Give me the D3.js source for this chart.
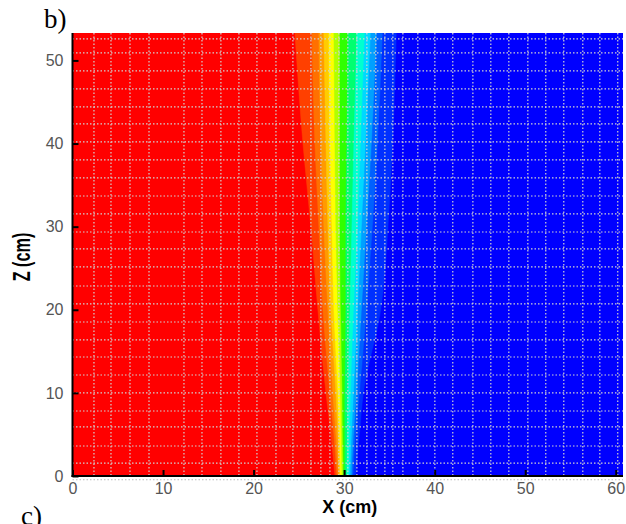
<!DOCTYPE html>
<html lang="en">
<head>
  <meta charset="UTF-8">
  <title>b) contour</title>
  <style>
    body { margin: 0; background: #fff; }
    svg { display: block; }
  </style>
</head>
<body>
<svg id="chart" width="626" height="524"></svg>
<script src="https://d3js.org/d3.v7.min.js"></script>
<script>
  const zRows = [0, 5, 10, 20, 30, 40, 53.3];

  // x position (cm) of each contour boundary, left to right, one value per zRows entry
  const bounds = [
    [28.98, 28.54, 27.99, 27.10, 26.33, 25.45, 24.56],
    [29.20, 28.87, 28.43, 27.66, 27.21, 26.77, 26.44],
    [29.37, 29.09, 28.76, 28.21, 27.76, 27.43, 27.21],
    [29.48, 29.31, 29.09, 28.54, 28.21, 27.99, 27.76],
    [29.59, 29.48, 29.31, 28.87, 28.65, 28.43, 28.32],
    [29.75, 29.70, 29.59, 29.31, 29.09, 28.98, 28.87],
    [29.92, 29.86, 29.81, 29.64, 29.53, 29.53, 29.53],
    [30.08, 30.08, 30.08, 30.19, 30.19, 30.30, 30.42],
    [30.30, 30.36, 30.42, 30.64, 30.86, 31.08, 31.41],
    [30.53, 30.64, 30.75, 31.08, 31.52, 31.85, 32.29],
    [30.69, 30.86, 31.08, 31.52, 31.96, 32.40, 32.95],
    [30.86, 31.08, 31.41, 31.96, 32.51, 33.06, 33.62],
    [31.02, 31.30, 31.74, 32.51, 33.17, 33.73, 34.28],
    [31.30, 31.74, 32.18, 34.10, 34.90, 35.40, 35.82]
  ];

  // flood colours, left region first
  const levelColors = ["#ff0000", "#ff4000", "#ff7000", "#ff9a00", "#ffcc00", "#ffff00",
    "#b0ff00", "#30ff00", "#00ff70", "#00ffd0", "#00d8ff", "#00a0ff", "#0060ff", "#0030ff", "#0000ff"];

  // mesh lines (cm)
  const gridX = [2.37, 4.25, 6.35, 8.45, 12.31, 14.30, 16.39, 18.38, 20.37, 22.47, 24.34, 26.33,
    27.43, 28.43, 29.42, 30.41, 31.41, 32.51, 33.50, 34.50, 35.38, 36.49, 38.14, 40.02, 42.00,
    44.22, 46.20, 48.19, 50.29, 52.27, 54.26, 56.36, 58.24, 60.22];
  const gridZ = [1.56, 3.61, 5.90, 7.82, 9.99, 12.15, 14.32, 16.37, 18.53, 20.70, 22.86, 25.15,
    27.32, 29.36, 31.53, 33.69, 35.86, 38.03, 40.19, 42.36, 44.40, 46.57, 48.74, 50.90, 52.59];

  const xTicks = [0, 10, 20, 30, 40, 50, 60];
  const zTicks = [0, 10, 20, 30, 40, 50];

  const xMax = 60.8, zMax = 53.3;

  const svg = d3.select("#chart");
  const x = d3.scaleLinear().domain([0, xMax]).range([72.5, 623]);
  const y = d3.scaleLinear().domain([0, zMax]).range([476, 33]);

  svg.append("clipPath").attr("id", "plot")
    .append("rect")
    .attr("x", x(0)).attr("y", y(zMax))
    .attr("width", x(xMax) - x(0)).attr("height", y(0) - y(zMax));

  const field = svg.append("g").attr("clip-path", "url(#plot)");

  // left region
  field.append("rect")
    .attr("x", x(0)).attr("y", y(zMax))
    .attr("width", x(xMax) - x(0)).attr("height", y(0) - y(zMax))
    .attr("fill", levelColors[0]);

  // each band covers everything to the right of its boundary; next one paints over it
  const band = d3.area()
    .curve(d3.curveMonotoneY)
    .y((d, i) => y(zRows[i]))
    .x1(() => x(xMax));

  bounds.forEach(function (b, k) {
    field.append("path")
      .datum(b)
      .attr("fill", levelColors[k + 1])
      .attr("stroke", levelColors[k + 1])
      .attr("stroke-width", 0.5)
      .attr("d", band.x0(d => x(d)));
  });

  // dotted mesh
  const grid = svg.append("g")
    .attr("stroke", "#d2d2d2")
    .attr("stroke-width", 1.2)
    .attr("stroke-dasharray", "1.5,2");

  grid.selectAll(".gx").data(gridX).join("line")
    .attr("x1", d => x(d)).attr("x2", d => x(d))
    .attr("y1", y(zMax)).attr("y2", y(0));

  grid.selectAll(".gz").data(gridZ).join("line")
    .attr("y1", d => y(d)).attr("y2", d => y(d))
    .attr("x1", x(0)).attr("x2", x(xMax));

  // the grey mesh row just under the frame
  grid.append("line")
    .attr("stroke", "#bbb")
    .attr("x1", x(0)).attr("x2", x(xMax))
    .attr("y1", y(-0.45)).attr("y2", y(-0.45));

  // axes
  const xAxis = svg.append("g")
    .attr("transform", `translate(0,${y(0)})`)
    .call(d3.axisBottom(x).tickValues(xTicks).tickSizeInner(-6).tickSizeOuter(0).tickPadding(7));

  const zAxis = svg.append("g")
    .attr("transform", `translate(${x(0)},0)`)
    .call(d3.axisLeft(y).tickValues(zTicks).tickSizeInner(-6).tickSizeOuter(0).tickPadding(9));

  [xAxis, zAxis].forEach(function (a) {
    a.select(".domain").remove();
    a.selectAll(".tick line").attr("stroke", "#000").attr("stroke-width", 2);
    a.selectAll(".tick text")
      .attr("fill", "#555")
      .style("font-family", "Liberation Sans, Arial, sans-serif")
      .style("font-size", "16px");
  });

  // frame lines
  svg.append("line")
    .attr("x1", x(0)).attr("x2", x(0))
    .attr("y1", y(zMax)).attr("y2", y(0) + 1)
    .attr("stroke", "#000").attr("stroke-width", 2);
  svg.append("line")
    .attr("x1", x(0) - 1).attr("x2", x(xMax))
    .attr("y1", y(0)).attr("y2", y(0))
    .attr("stroke", "#000").attr("stroke-width", 2);

  // titles
  svg.append("text")
    .attr("x", (x(0) + x(xMax)) / 2 + 2)
    .attr("y", 513)
    .attr("text-anchor", "middle")
    .style("font-family", "Liberation Sans, Arial, sans-serif")
    .style("font-weight", "bold")
    .style("font-size", "18px")
    .text("X (cm)");

  svg.append("text")
    .attr("transform", "translate(30,257) rotate(-90) scale(0.9,1.35)")
    .attr("text-anchor", "middle")
    .style("font-family", "Liberation Sans, Arial, sans-serif")
    .style("font-weight", "bold")
    .style("font-size", "18px")
    .text("Z (cm)");

  svg.append("text")
    .attr("x", 44).attr("y", 28)
    .style("font-family", "Liberation Serif, Times New Roman, serif")
    .style("font-size", "27px")
    .text("b)");

  // only the top of this panel label fits, as in the source page
  svg.append("text")
    .attr("x", 21).attr("y", 525)
    .style("font-family", "Liberation Serif, Times New Roman, serif")
    .style("font-size", "27px")
    .text("c)");
</script>
</body>
</html>
